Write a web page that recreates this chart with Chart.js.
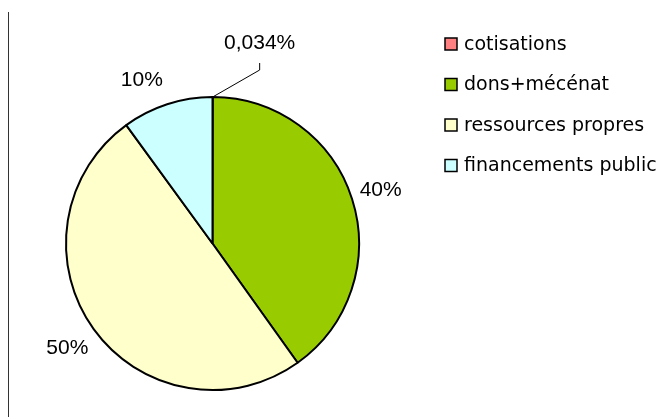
<!DOCTYPE html>
<html>
<head>
<meta charset="utf-8">
<script src="https://cdn.jsdelivr.net/npm/chart.js@4"></script>
<style>
html,body{margin:0;padding:0;background:#fff;}
#wrap{width:659px;height:419px;position:relative;}
</style>
</head>
<body>
<div id="wrap"><canvas id="c" width="659" height="419"></canvas></div>
<script>
// ---- data ----
const categories = ["cotisations", "dons+mécénat", "ressources propres", "financements public"];
const values = [0.034, 40.1, 49.85, 10.02];
const colors = ["#FF8080", "#99CC00", "#FFFFCC", "#CCFFFF"];

// ---- styling helpers ----
const labelFont = '21px "Liberation Sans", Arial, sans-serif';
const legendFont = '19px "DejaVu Sans", Verdana, sans-serif';
const labelGap = 30;
const labelNudge = [[0,0],[0,0],[-2,1],[-16,5]];

function fmt(v, total){
  const p = v / total * 100;
  if (p < 1) return p.toFixed(3).replace('.', ',') + '%';
  return Math.round(p) + '%';
}

const overlay = {
  id: 'overlay',
  afterDraw(chart){
    const ctx = chart.ctx;
    const meta = chart.getDatasetMeta(0);
    const data = chart.data.datasets[0].data;
    const total = data.reduce((a,b)=>a+b,0);
    ctx.save();
    // left frame line
    ctx.strokeStyle = '#333';
    ctx.lineWidth = 1;
    ctx.beginPath();
    ctx.moveTo(8.5, 12);
    ctx.lineTo(8.5, 417);
    ctx.stroke();

    // data labels
    ctx.font = labelFont;
    ctx.fillStyle = '#000';
    ctx.textAlign = 'center';
    ctx.textBaseline = 'middle';
    meta.data.forEach((arc, i) => {
      const p = arc.getProps(['x','y','startAngle','endAngle','outerRadius'], true);
      const mid = (p.startAngle + p.endAngle) / 2;
      const txt = fmt(data[i], total);
      const share = data[i] / total * 100;
      if (share < 1) {
        // leader line
        const sx = p.x + Math.cos(mid) * p.outerRadius;
        const sy = p.y + Math.sin(mid) * p.outerRadius;
        const ex = sx + 47, ey = sy - 27;
        ctx.strokeStyle = '#000';
        ctx.lineWidth = 1;
        ctx.beginPath();
        ctx.moveTo(sx, sy);
        ctx.lineTo(ex, ey);
        ctx.lineTo(ex, ey - 7);
        ctx.stroke();
        ctx.fillText(txt, ex, ey - 27);
      } else {
        const d = p.outerRadius + labelGap;
        const lx = p.x + Math.cos(mid) * d + labelNudge[i][0];
        const ly = p.y + Math.sin(mid) * d + labelNudge[i][1];
        ctx.fillText(txt, lx, ly);
      }
    });

    // legend
    ctx.font = legendFont;
    ctx.textAlign = 'left';
    ctx.textBaseline = 'middle';
    chart.data.labels.forEach((lab, i) => {
      const cy = 44 + i * 40.5;
      ctx.fillStyle = chart.data.datasets[0].backgroundColor[i];
      ctx.fillRect(445, cy - 6, 12, 12);
      ctx.strokeStyle = '#000';
      ctx.lineWidth = 1.5;
      ctx.strokeRect(445, cy - 6, 12, 12);
      ctx.fillStyle = '#000';
      ctx.fillText(lab, 464, cy + 1);
    });
    ctx.restore();
  }
};

new Chart(document.getElementById('c'), {
  type: 'pie',
  data: {
    labels: categories,
    datasets: [{
      data: values,
      backgroundColor: colors,
      borderColor: '#000',
      borderWidth: 2
    }]
  },
  options: {
    responsive: false,
    animation: false,
    layout: { padding: { left: 65, right: 299, top: 96, bottom: 28 } },
    plugins: { legend: { display: false }, tooltip: { enabled: false } }
  },
  plugins: [overlay]
});
</script>
</body>
</html>
